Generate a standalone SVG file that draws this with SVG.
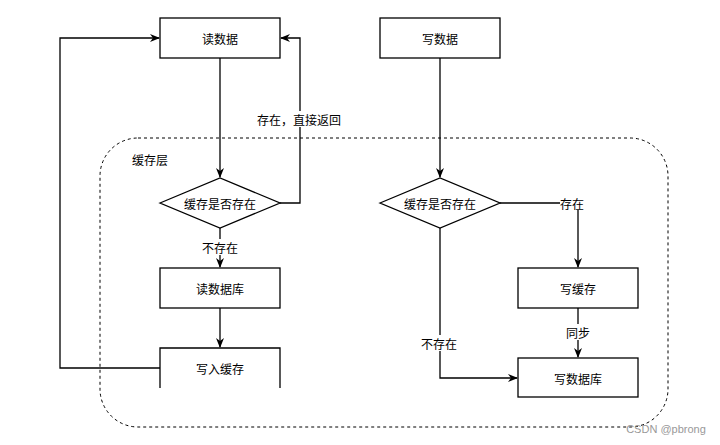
<svg xmlns="http://www.w3.org/2000/svg" width="720" height="445" viewBox="0 0 720 445">
<style>
text{font-family:"Noto Sans CJK SC","Noto Sans",sans-serif;font-size:12px;fill:#000;text-anchor:middle;dominant-baseline:central}
.box{fill:#fff;stroke:#000;stroke-width:1.3}
.ln{fill:none;stroke:#000;stroke-width:1.3}
.lbl{fill:#fff}
</style>
<defs>
<marker id="ah" viewBox="0 0 10 8" refX="9" refY="4" markerWidth="10" markerHeight="8" markerUnits="userSpaceOnUse" orient="auto">
<path d="M0,0 L10,4 L0,8 L3,4 z" fill="#000"/>
</marker>
</defs>
<rect width="720" height="445" fill="#fff"/>
<g id="container">
<rect x="100" y="138" width="568" height="289" rx="38" ry="38" fill="none" stroke="#000" stroke-width="1" stroke-dasharray="3,3"/>
<text x="132" y="159" style="text-anchor:start">缓存层</text>
</g>
<g id="connectors">
<path class="ln" d="M220,58 V177" marker-end="url(#ah)"/>
<path class="ln" d="M280,203 H300 V38 H281" marker-end="url(#ah)"/>
<path class="ln" d="M220,228 V267" marker-end="url(#ah)"/>
<path class="ln" d="M220,308 V347" marker-end="url(#ah)"/>
<path class="ln" d="M160,368 H60 V38 H159" marker-end="url(#ah)"/>
<path class="ln" d="M440,58 V177" marker-end="url(#ah)"/>
<path class="ln" d="M500,203 H578 V267" marker-end="url(#ah)"/>
<path class="ln" d="M578,308 V357" marker-end="url(#ah)"/>
<path class="ln" d="M440,228 V378 H517" marker-end="url(#ah)"/>
<rect class="lbl" x="254" y="111" width="90" height="16"/>
<text x="299" y="119">存在，直接返回</text>
<rect class="lbl" x="200" y="239" width="40" height="16"/>
<text x="220" y="247">不存在</text>
<rect class="lbl" x="560" y="196" width="25" height="14"/>
<text x="572" y="203">存在</text>
<rect class="lbl" x="565" y="324" width="26" height="16"/>
<text x="578" y="332">同步</text>
<rect class="lbl" x="419" y="335" width="40" height="16"/>
<text x="439" y="343">不存在</text>
</g>
<g id="read-data">
<rect class="box" x="160" y="18" width="120" height="40"/>
<text x="220" y="38">读数据</text>
</g>
<g id="write-data">
<rect class="box" x="380" y="18" width="120" height="40"/>
<text x="440" y="38">写数据</text>
</g>
<g id="check-cache-read">
<polygon class="box" points="160,203 220,178 280,203 220,228"/>
<text x="220" y="203">缓存是否存在</text>
</g>
<g id="check-cache-write">
<polygon class="box" points="380,203 440,178 500,203 440,228"/>
<text x="440" y="203">缓存是否存在</text>
</g>
<g id="read-db">
<rect class="box" x="160" y="268" width="120" height="40"/>
<text x="220" y="288">读数据库</text>
</g>
<g id="write-cache-read">
<rect x="160" y="348" width="120" height="40" fill="#fff"/>
<path class="ln" d="M160,388 V348 H280 V388"/>
<text x="220" y="368">写入缓存</text>
</g>
<g id="write-cache">
<rect class="box" x="518" y="268" width="120" height="40"/>
<text x="578" y="288">写缓存</text>
</g>
<g id="write-db">
<rect class="box" x="518" y="358" width="120" height="39"/>
<text x="578" y="378">写数据库</text>
</g>
<text x="666" y="429" style="font-family:'Liberation Sans',sans-serif;font-size:11px;fill:#999">CSDN @pbrong</text>
</svg>
